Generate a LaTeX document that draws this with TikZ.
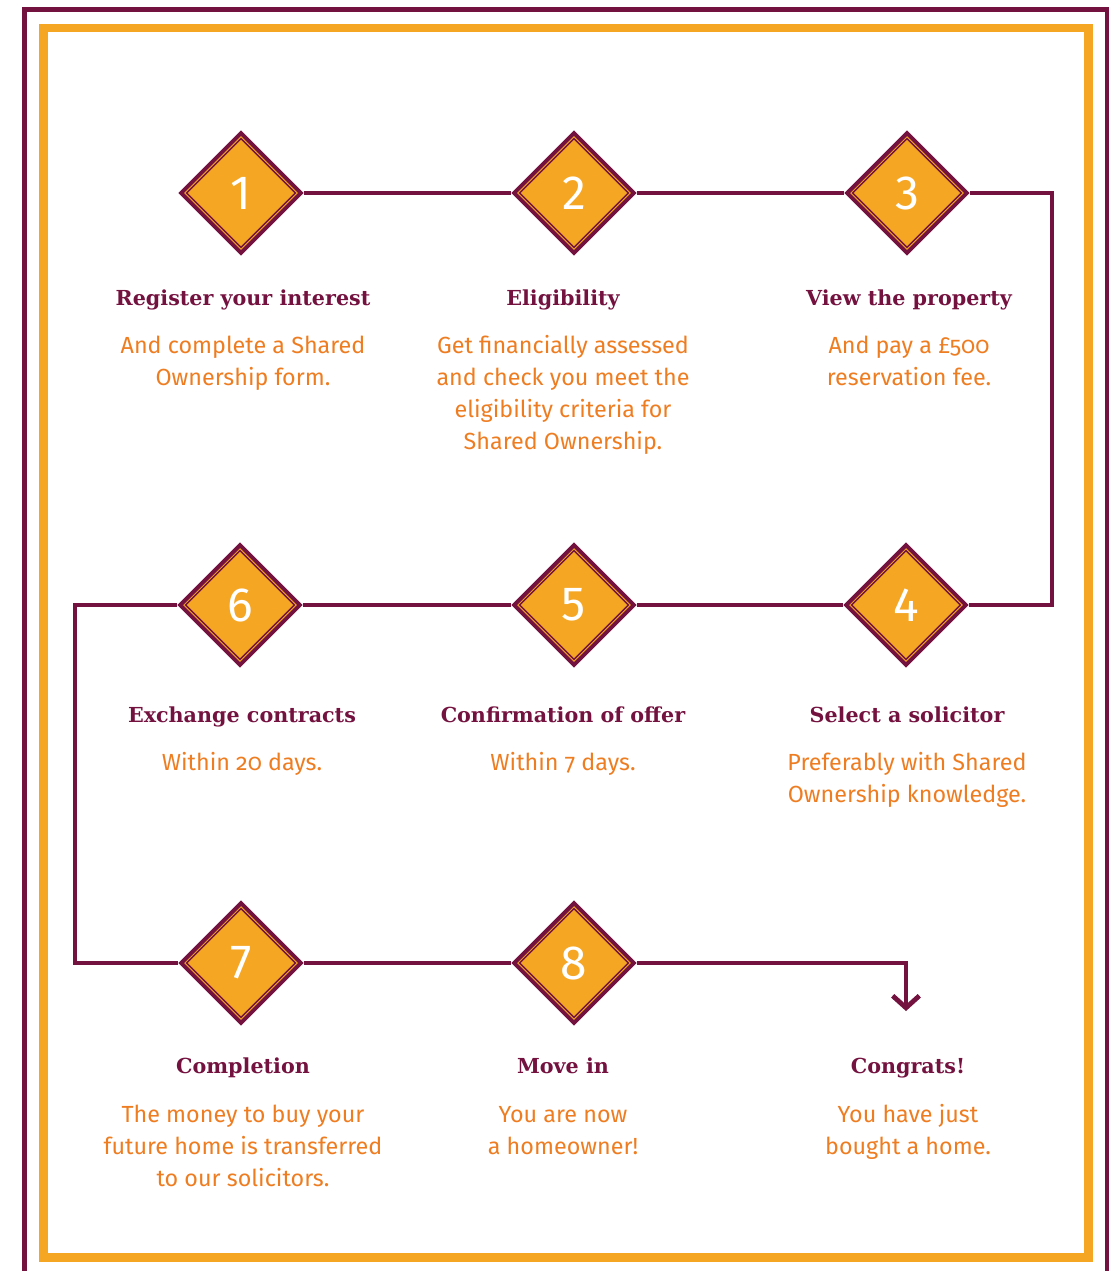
\documentclass[tikz,border=0pt]{standalone}
\usepackage{fontspec}
\setmainfont{Fira Sans}[Numbers=OldStyle]
\newfontfamily\digitfont{Fira Sans}
\newfontfamily\headfont{DejaVu Serif}
\usetikzlibrary{positioning, arrows.meta, shapes.geometric}
\definecolor{plum}{HTML}{74123F}
\definecolor{amber}{HTML}{F5A623}
\definecolor{rust}{HTML}{EE7D22}

\begin{document}
\begin{tikzpicture}[x=0.75pt, y=-0.75pt,
  stepbox/.style={draw=plum, line width=3pt, fill=amber, diamond, aspect=1, inner sep=0pt,
    minimum size=91pt, text=white, font=\digitfont\fontsize{36}{36}\selectfont},
  stepline/.style={draw=plum, line width=1pt, diamond, aspect=1, inner sep=0pt, minimum size=82pt},
  link/.style={draw=plum, line width=3.6pt},
  title/.style={anchor=base, text=plum, font=\headfont\bfseries\fontsize{15.5}{18}\selectfont},
  blurb/.style={anchor=base, align=center, text=rust, font=\fontsize{17.5}{24}\selectfont}]
  \useasboundingbox (0,0) rectangle (1109,1271);
  \clip (0,0) rectangle (1109,1271);
  % frames
  \draw[plum, line width=3.75pt] (24.5,9.5) rectangle (1107.5,1300);
  \draw[amber, line width=6.4pt] (43.5,28) rectangle (1088.5,1257.5);
  % turning points
  \coordinate (r1) at (1052,193);
  \coordinate (r2) at (1052,605);
  \coordinate (l1) at (75,605);
  \coordinate (l2) at (75,963);
  \coordinate (fin) at (906,1011);
  % steps
  \node[stepbox] (s1) at (241,193) {1};
  \node[stepbox] (s2) at (574,193) {2};
  \node[stepbox] (s3) at (907,193) {3};
  \node[stepbox] (s4) at (906,605) {4};
  \node[stepbox] (s5) at (574,605) {5};
  \node[stepbox] (s6) at (240,605) {6};
  \node[stepbox] (s7) at (241,963) {7};
  \node[stepbox] (s8) at (574,963) {8};
  \foreach \s in {s1,s2,s3,s4,s5,s6,s7,s8}
    \node[stepline] at (\s) {};
  % path between the steps
  \draw[link] (s1) -- (s2);
  \draw[link] (s2) -- (s3);
  \draw[link] (s3) -- (r1) -- (r2) -- (s4);
  \draw[link] (s4) -- (s5);
  \draw[link] (s5) -- (s6);
  \draw[link] (s6) -- (l1) -- (l2) -- (s7);
  \draw[link] (s7) -- (s8);
  \draw[link, -{Straight Barb[length=9pt, width=20pt]}] (s8) -| (fin);
  % row 1 texts (blurbs sit on their last line)
  \node[title] (t1) at (243,305) {Register your interest};
  \node[title] (t2) at (563,305) {Eligibility};
  \node[title] (t3) at (909,305) {View the property};
  \node[blurb] (b1) at (243,385) {And complete a Shared\\Ownership form.};
  \node[blurb] (b2) at (563,449) {Get financially assessed\\and check you meet the\\eligibility criteria for\\Shared Ownership.};
  \node[blurb] (b3) at (909,385) {And pay a £500\\reservation fee.};
  % row 2 texts
  \node[title] (t6) at (242,722) {Exchange contracts};
  \node[title] (t5) at (563,722) {Confirmation of offer};
  \node[title] (t4) at (907,722) {Select a solicitor};
  \node[blurb] (b6) at (242,770) {Within 20 days.};
  \node[blurb] (b5) at (563,770) {Within 7 days.};
  \node[blurb] (b4) at (907,802) {Preferably with Shared\\Ownership knowledge.};
  % row 3 texts
  \node[title] (t7) at (243,1073) {Completion};
  \node[title] (t8) at (563,1073) {Move in};
  \node[title] (t9) at (908,1073) {Congrats!};
  \node[blurb] (b7) at (243,1186) {The money to buy your\\future home is transferred\\to our solicitors.};
  \node[blurb] (b8) at (563,1154) {You are now\\a homeowner!};
  \node[blurb] (b9) at (908,1154) {You have just\\bought a home.};
\end{tikzpicture}
\end{document}
